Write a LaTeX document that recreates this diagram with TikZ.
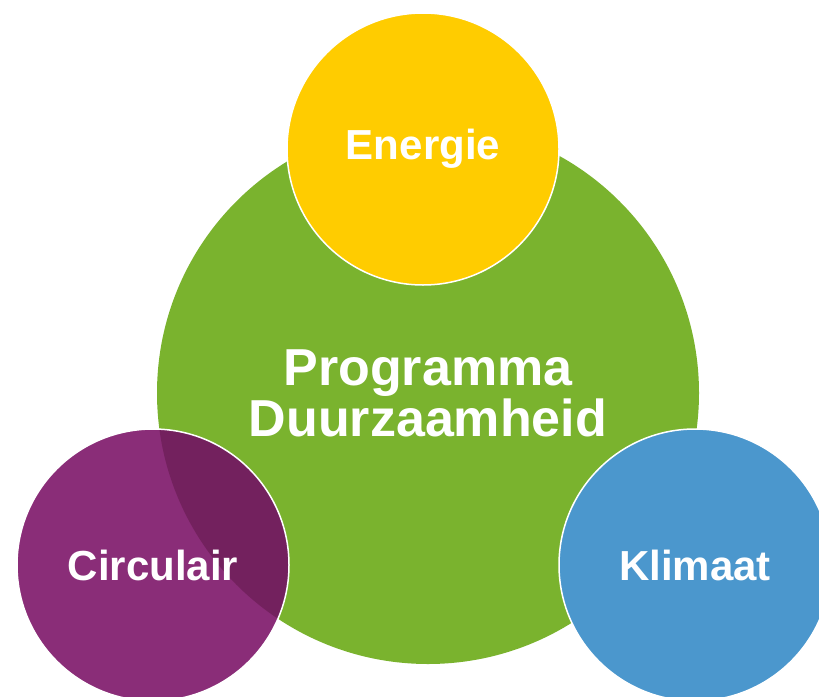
\documentclass[tikz,border=0pt]{standalone}
\usepackage{fontspec}
\setmainfont{Liberation Sans}
\usepackage{xcolor}
\usepackage{tikz}

\definecolor{groen}{HTML}{7AB32E}
\definecolor{geel}{HTML}{FFCC00}
\definecolor{paars}{HTML}{8A2D78}
\definecolor{paarsdonker}{HTML}{73215E}
\definecolor{blauw}{HTML}{4B97CD}

\begin{document}
\begin{tikzpicture}[x=1pt, y=-1pt,
		thema/.style={circle, inner sep=0pt, minimum size=2*\r, draw=white, line width=1.5pt, text=white, font=\bfseries\fontsize{42}{50}\selectfont},
		kern/.style={circle, inner sep=0pt, minimum size=2*\R, text=white, align=center, font=\bfseries\fontsize{52}{51}\selectfont}]
	\def\R{271};
	\def\r{136};
	
	\useasboundingbox (0,0) rectangle (819,696);
	\clip (0,0) rectangle (819,696);
	
	\node [kern, fill=groen] (programma) at (428,393) {Programma\\Duurzaamheid};
	
	\node [thema, fill=geel] (energie) at (423,149) {Energie};
	\node [thema, fill=paars, path picture={\fill [paarsdonker] (programma.center) circle [radius=\R];}] (circulair) at (153,565) {Circulair};
	\node [thema, fill=blauw] (klimaat) at (695,565) {Klimaat};
\end{tikzpicture}
\end{document}
